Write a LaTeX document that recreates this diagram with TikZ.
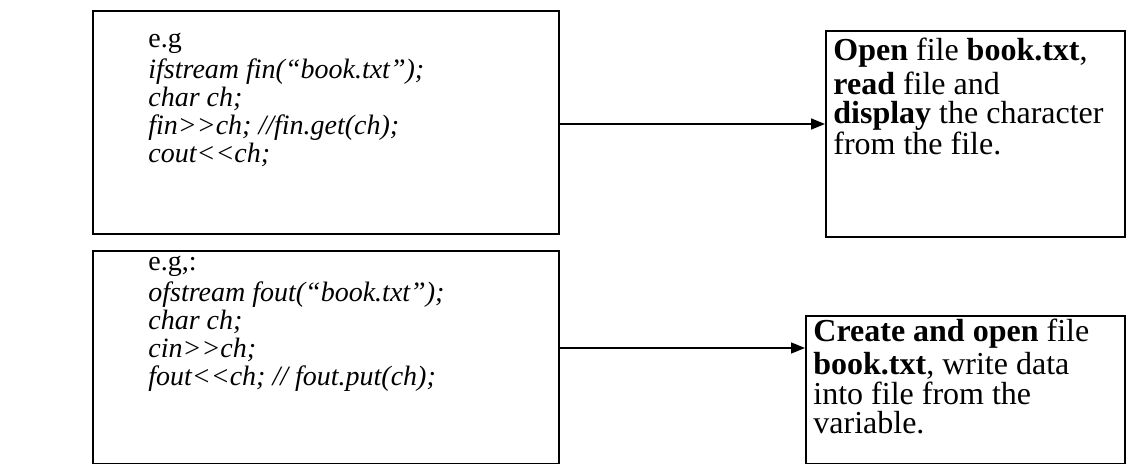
\documentclass[tikz,border=0pt]{standalone}
\usepackage{fontspec}
\setmainfont{Liberation Serif}
\usetikzlibrary{arrows.meta, positioning}
\newcommand{\gtgt}{>\kern0pt>}
\newcommand{\ltlt}{<\kern0pt<}
\tikzset{
  frame/.style   = {draw=black, line width=1pt, rectangle, anchor=north west, inner sep=0pt},
  codetxt/.style = {anchor=north west, inner sep=0pt, align=left,
                    font=\fontsize{14pt}{14pt}\selectfont},
  desctxt/.style = {anchor=north west, inner sep=0pt, align=left,
                    font=\fontsize{16pt}{14.6pt}\selectfont},
  arrow/.style   = {-{Triangle[length=7pt, width=5.5pt]}, line width=0.75pt},
}
\begin{document}
\begin{tikzpicture}[x=0.5pt, y=-0.5pt]
  \useasboundingbox (0,0) rectangle (1128,464);
  % code boxes
  \node[frame, minimum width=233pt, minimum height=111.5pt] (incode) at (92,10) {};
  \node[frame, minimum width=233pt, minimum height=106.5pt] (outcode) at (92,250) {};
  % result boxes
  \node[frame, minimum width=149.5pt, minimum height=103pt] (indesc) at (825,30) {};
  \node[frame, minimum width=159.5pt, minimum height=74pt] (outdesc) at (805,315) {};
  % texts
  \node[codetxt] (intxt) at (148,28)
    {\strut e.g\\ \textit{ifstream fin(“book.txt”);}\\ \textit{char ch;}\\
     \textit{fin\gtgt ch; //fin.get(ch);}\\ \textit{cout\ltlt ch;}};
  \node[codetxt] (outtxt) at (148,251)
    {\strut e.g,:\\ \textit{ofstream fout(“book.txt”);}\\ \textit{char ch;}\\
     \textit{cin\gtgt ch;}\\ \textit{fout\ltlt ch; // fout.put(ch);}};
  \node[desctxt] (inres) at (833,38)
    {\strut\textbf{Open} file \textbf{book.txt},\\ \textbf{read} file and\\
     \textbf{display} the character\\ from the file.};
  \node[desctxt] (outres) at (813,319)
    {\strut\textbf{Create and open} file\\ \textbf{book.txt}, write data\\
     into file from the\\ variable.};
  % arrows
  \coordinate (inlvl) at (0,124);
  \coordinate (outlvl) at (0,348);
  \draw[arrow] (incode.east |- inlvl) -- (indesc.west |- inlvl);
  \draw[arrow] (outcode.east |- outlvl) -- (outdesc.west |- outlvl);
\end{tikzpicture}
\end{document}
